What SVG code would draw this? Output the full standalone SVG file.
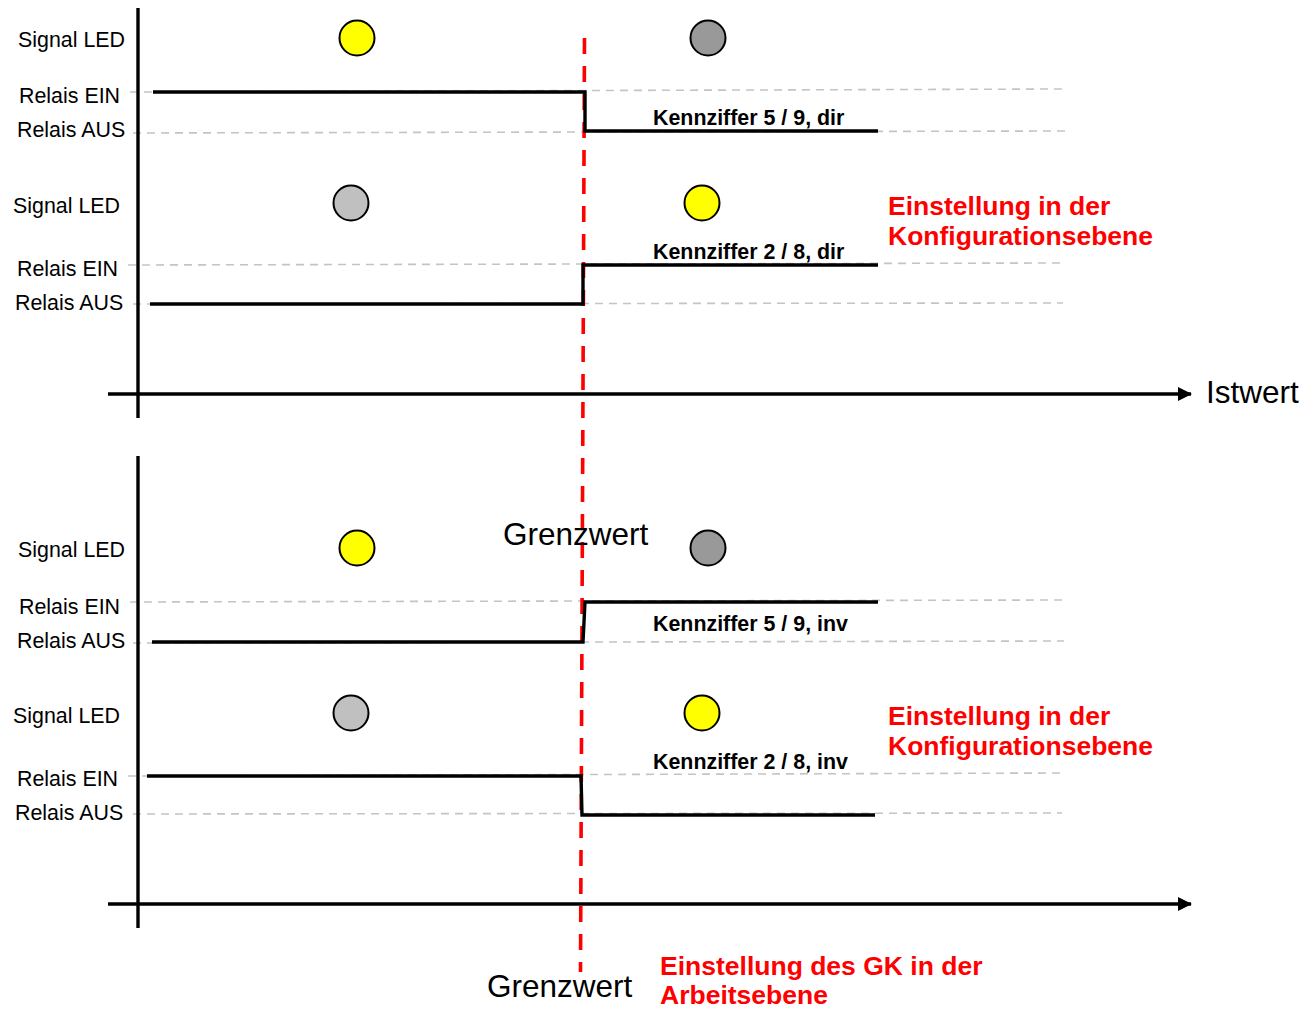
<svg xmlns="http://www.w3.org/2000/svg" width="1304" height="1009" viewBox="0 0 1304 1009">
<style>
.lbl{font-family:"Liberation Sans",Arial,sans-serif;font-size:21.4px;fill:#000}
.kz{font-family:"Liberation Sans",Arial,sans-serif;font-size:21.4px;font-weight:bold;fill:#000}
.red{font-family:"Liberation Sans",Arial,sans-serif;font-size:26.5px;font-weight:bold;fill:#ff0000}
.big{font-family:"Liberation Sans",Arial,sans-serif;font-size:31.5px;fill:#000}
.grid{stroke:#c4c4c4;stroke-width:1.6;stroke-dasharray:8 6;fill:none}
.sig{stroke:#000;stroke-width:3.4;fill:none;stroke-linejoin:miter}
.axis{stroke:#000;stroke-width:3.4;fill:none}
.led{stroke:#000;stroke-width:2}
.yel{fill:#ffff00}
.dk{fill:#999999}
.lt{fill:#c0c0c0}
</style>
<defs>
<marker id="arr" markerWidth="14" markerHeight="14" refX="13" refY="7" orient="auto" markerUnits="userSpaceOnUse">
<path d="M0,0 L14,7 L0,14 Z" fill="#000"/>
</marker>
</defs>
<rect width="1304" height="1009" fill="#fff"/>
<g id="grid-lines">
<line class="grid" x1="130" y1="92" x2="1062" y2="89"/>
<line class="grid" x1="133" y1="133" x2="1065" y2="131"/>
<line class="grid" x1="128" y1="265" x2="1062" y2="263"/>
<line class="grid" x1="133" y1="304" x2="1063" y2="303"/>
<line class="grid" x1="130" y1="602" x2="1062" y2="600"/>
<line class="grid" x1="133" y1="643" x2="1064" y2="641"/>
<line class="grid" x1="128" y1="776" x2="1062" y2="773"/>
<line class="grid" x1="133" y1="814" x2="1062" y2="813"/>
</g>
<g id="axes">
<line class="axis" x1="138" y1="8" x2="138" y2="418"/>
<line class="axis" x1="108" y1="394" x2="1191" y2="394" marker-end="url(#arr)"/>
<line class="axis" x1="138" y1="456" x2="138" y2="928"/>
<line class="axis" x1="108" y1="904" x2="1191" y2="904" marker-end="url(#arr)"/>
</g>
<g id="threshold">
<line x1="584.5" y1="38" x2="580.5" y2="972" stroke="#ff0000" stroke-width="3.6" stroke-dasharray="16 12"/>
</g>
<g id="connectors">
<polyline class="sig" points="153,92 585,92 585,131 878,131"/>
<polyline class="sig" points="150,304 583,304 583,265 878,265"/>
<polyline class="sig" points="152,642 583,642 585,602 878,602"/>
<polyline class="sig" points="147,776 581,776 582,815 875,815"/>
</g>
<g id="panel1-signal1">
<text class="lbl" x="18" y="47">Signal LED</text>
<text class="lbl" x="19" y="103">Relais EIN</text>
<text class="lbl" x="17" y="137">Relais AUS</text>
<circle class="led yel" cx="357" cy="38" r="17.5"/>
<circle class="led dk" cx="708" cy="38" r="17.5"/>
<text class="kz" x="653" y="125">Kennziffer 5 / 9, dir</text>
</g>
<g id="panel1-signal2">
<text class="lbl" x="13" y="213">Signal LED</text>
<text class="lbl" x="17" y="276">Relais EIN</text>
<text class="lbl" x="15" y="310">Relais AUS</text>
<circle class="led lt" cx="351" cy="203" r="17.5"/>
<circle class="led yel" cx="702" cy="203" r="17.5"/>
<text class="kz" x="653" y="259">Kennziffer 2 / 8, dir</text>
</g>
<g id="panel1-note">
<text class="red" x="888" y="215">Einstellung in der</text>
<text class="red" x="888" y="245">Konfigurationsebene</text>
</g>
<g id="istwert">
<text class="big" x="1206" y="403">Istwert</text>
</g>
<g id="grenzwert-mid">
<text class="big" x="503" y="545">Grenzwert</text>
</g>
<g id="panel2-signal1">
<text class="lbl" x="18" y="557">Signal LED</text>
<text class="lbl" x="19" y="614">Relais EIN</text>
<text class="lbl" x="17" y="648">Relais AUS</text>
<circle class="led yel" cx="357" cy="548" r="17.5"/>
<circle class="led dk" cx="708" cy="548" r="17.5"/>
<text class="kz" x="653" y="631">Kennziffer 5 / 9, inv</text>
</g>
<g id="panel2-signal2">
<text class="lbl" x="13" y="723">Signal LED</text>
<text class="lbl" x="17" y="786">Relais EIN</text>
<text class="lbl" x="15" y="820">Relais AUS</text>
<circle class="led lt" cx="351" cy="713" r="17.5"/>
<circle class="led yel" cx="702" cy="713" r="17.5"/>
<text class="kz" x="653" y="769">Kennziffer 2 / 8, inv</text>
</g>
<g id="panel2-note">
<text class="red" x="888" y="725">Einstellung in der</text>
<text class="red" x="888" y="755">Konfigurationsebene</text>
</g>
<g id="grenzwert-bottom">
<text class="big" x="487" y="997">Grenzwert</text>
<text class="red" x="660" y="975">Einstellung des GK in der</text>
<text class="red" x="660" y="1004">Arbeitsebene</text>
</g>
</svg>
